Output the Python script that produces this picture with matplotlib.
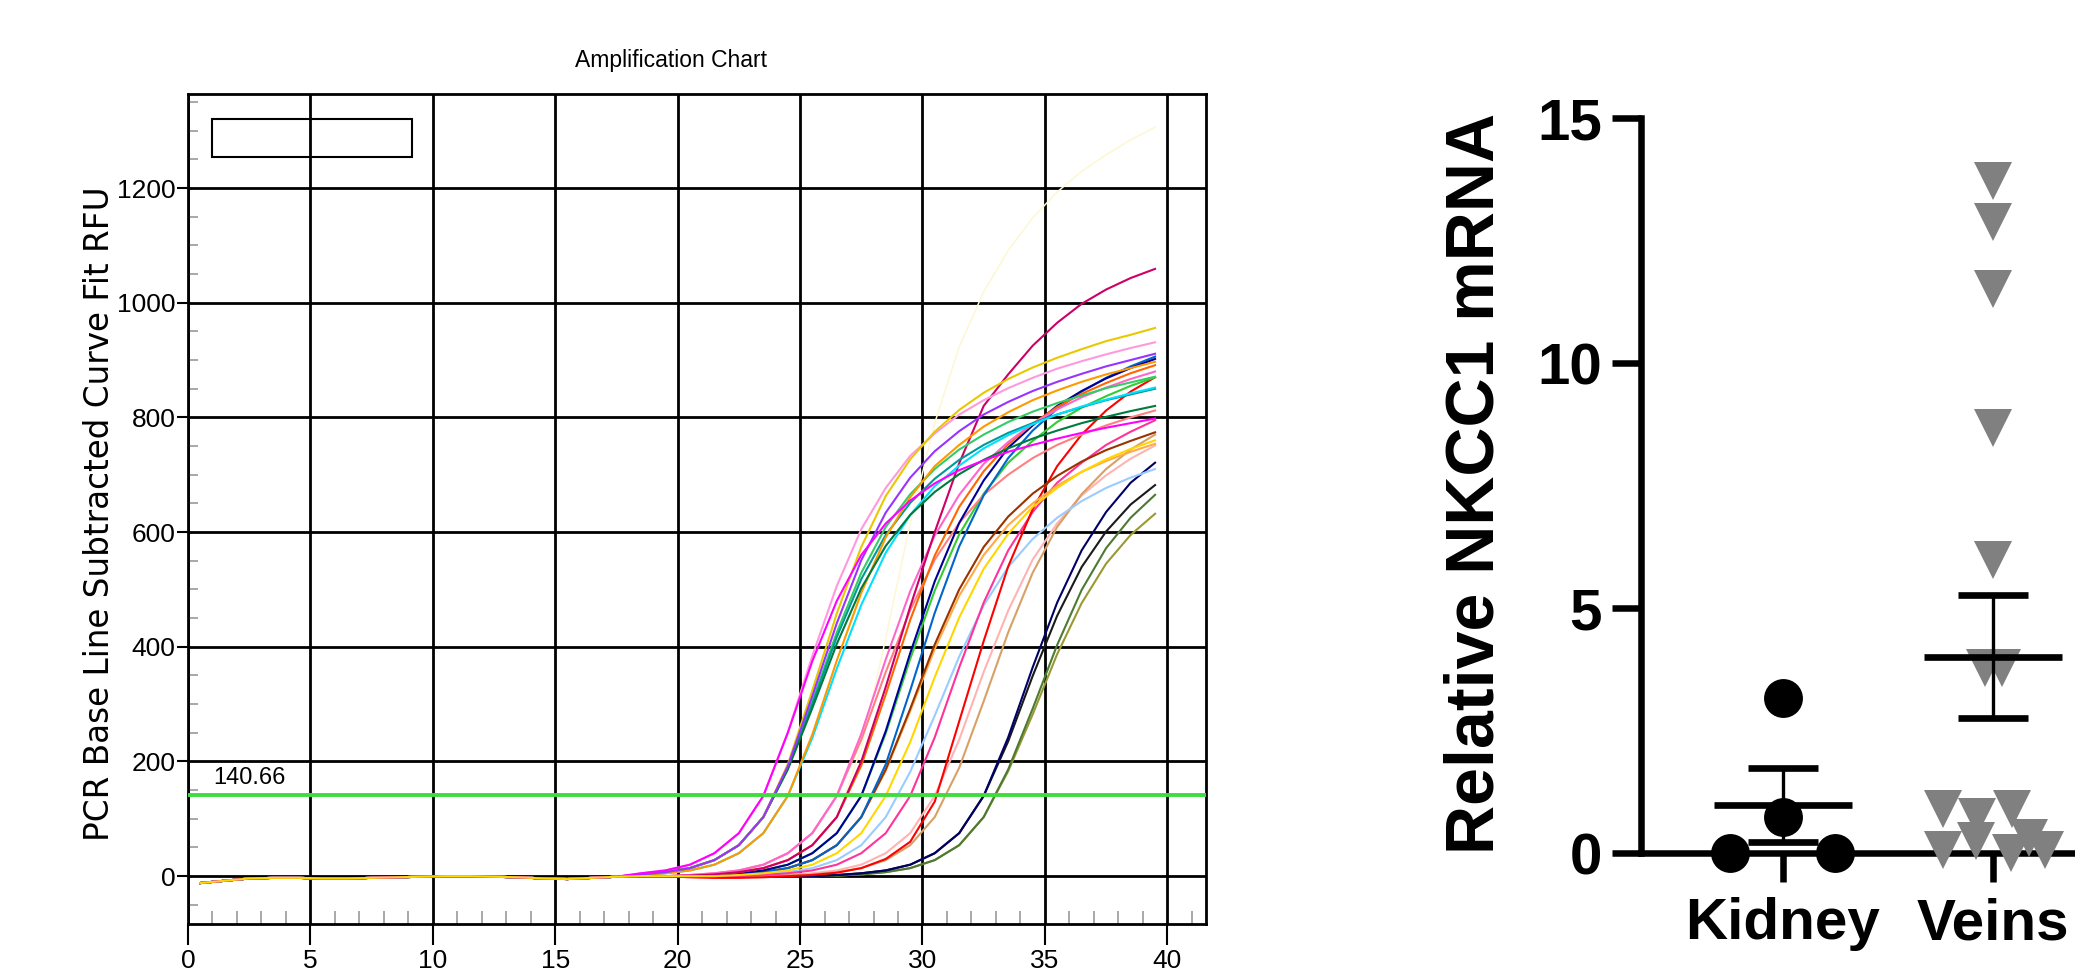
import numpy as np
import matplotlib
matplotlib.use('Agg')
import matplotlib.pyplot as plt
from matplotlib.patches import Rectangle
from matplotlib.ticker import MultipleLocator

plt.rcParams['font.family'] = ['Liberation Sans', 'DejaVu Sans']

# ---- amplification data (RFU), cycles 1..40 drawn at cycle - 0.5 ----
cycle_x = np.arange(0.5, 40)
threshold = 140.66

# shared flat part for cycles 1-18
baseline = [-12, -8, -4, -3, -3, -4, -4, -3, -2, -1, 0, 0, -1, -2, -4, -5, -3, -1]

# cycles 19-40
magenta = [5, 10, 20, 40, 75, 140, 250, 375, 480, 560, 615, 655, 685, 708, 725, 740, 752, 763, 773, 782, 790, 798]
violet = [3, 7, 14, 28, 54, 103, 192, 314, 441, 551, 634, 695, 741, 776, 805, 827, 846, 862, 876, 889, 900, 911]
gold = [3, 7, 14, 28, 54, 103, 195, 324, 458, 574, 663, 727, 775, 813, 843, 867, 887, 904, 919, 933, 944, 956]
dark_green = [3, 7, 14, 28, 54, 103, 186, 293, 405, 502, 576, 630, 670, 701, 726, 746, 763, 777, 790, 801, 811, 820]
light_pink = [5, 10, 20, 40, 75, 140, 251, 384, 506, 605, 677, 733, 772, 805, 830, 851, 869, 885, 898, 910, 921, 931]
orange = [2, 5, 10, 20, 40, 75, 140, 247, 376, 494, 591, 661, 715, 752, 784, 809, 830, 847, 862, 875, 886, 897]
cyan = [2, 5, 10, 20, 40, 75, 140, 241, 362, 473, 564, 630, 680, 716, 746, 769, 788, 805, 819, 831, 842, 852]
teal = [3, 7, 14, 28, 54, 103, 188, 300, 417, 518, 595, 651, 693, 726, 752, 773, 790, 805, 818, 830, 840, 850]
sea_green = [3, 7, 14, 28, 54, 103, 189, 305, 425, 529, 609, 666, 710, 744, 770, 792, 810, 825, 838, 851, 861, 871]

crimson = [0, 0, 1, 3, 7, 14, 28, 54, 103, 200, 330, 470, 600, 720, 820, 875, 925, 965, 998, 1023, 1043, 1059]
pink = [0, 0, 2, 5, 10, 20, 40, 75, 140, 248, 378, 497, 594, 665, 719, 757, 789, 814, 835, 852, 867, 880]
orange_red = [0, 0, 1, 3, 7, 14, 28, 54, 103, 193, 317, 447, 559, 644, 706, 753, 789, 818, 841, 860, 877, 891]
dark_blue = [0, 0, 0, 2, 5, 10, 20, 40, 75, 140, 253, 389, 514, 616, 690, 747, 786, 820, 846, 868, 886, 902]
blue = [0, 0, 0, 1, 3, 7, 14, 28, 54, 103, 195, 324, 459, 575, 664, 729, 777, 815, 845, 869, 889, 906]
brown = [0, 0, 0, 1, 3, 7, 14, 28, 54, 103, 186, 292, 404, 500, 574, 627, 667, 698, 723, 743, 759, 774]
yellow = [0, 0, 0, 0, 2, 5, 10, 20, 40, 75, 140, 234, 347, 451, 536, 597, 644, 677, 705, 727, 745, 760]
light_orange = [0, 0, 0, 1, 3, 7, 14, 28, 54, 103, 184, 288, 396, 489, 560, 612, 650, 681, 705, 724, 740, 754]
salmon = [0, 0, 2, 5, 10, 20, 40, 75, 140, 238, 356, 464, 552, 616, 665, 700, 729, 752, 770, 786, 800, 812]
green = [0, 0, 0, 2, 5, 10, 20, 40, 75, 140, 249, 379, 498, 596, 667, 721, 759, 792, 817, 837, 855, 870]

red = [0, 0, -2, -3, -3, -2, 0, 2, 6, 14, 30, 60, 130, 270, 410, 540, 640, 715, 770, 812, 845, 870]
rose = [0, 0, 0, 0, 0, 2, 5, 10, 20, 40, 75, 140, 242, 364, 477, 568, 635, 686, 721, 752, 775, 795]
light_blue = [0, 0, 0, 0, 1, 3, 7, 14, 28, 54, 103, 182, 280, 383, 472, 539, 588, 625, 654, 677, 695, 710]
tan = [0, 0, 0, 0, 0, 0, 1, 3, 7, 14, 28, 54, 103, 189, 305, 425, 529, 609, 666, 710, 744, 770]
pale_pink = [0, 0, 0, 0, 0, 0, 2, 5, 10, 20, 40, 75, 140, 238, 356, 463, 552, 615, 664, 699, 728, 751]

navy = [0, 0, 0, 0, 0, 0, 0, 0, 2, 5, 10, 20, 40, 75, 140, 242, 364, 477, 568, 635, 686, 721]
black = [0, 0, 0, 0, 0, 0, 0, 0, 2, 5, 10, 20, 40, 75, 140, 235, 349, 454, 539, 601, 648, 682]
olive_green = [0, 0, 0, 0, 0, 0, 0, 0, 1, 3, 7, 14, 28, 54, 103, 186, 292, 403, 499, 572, 625, 665]
olive = [0, 0, 0, 0, 0, 0, 0, 0, 1, 3, 7, 14, 28, 54, 103, 183, 282, 387, 476, 545, 595, 632]

pale_yellow = [0, 0, 1, 3, 7, 14, 28, 54, 103, 223, 415, 616, 790, 923, 1019, 1091, 1148, 1193, 1229, 1258, 1284, 1306]

# drawing order: late wells first, yellow last so it sits on the baseline
wells = [
    (olive, '#999933'), (olive_green, '#4d7a33'), (black, '#1a1a1a'), (navy, '#000066'),
    (pale_pink, '#ffb3b3'), (tan, '#d9a066'), (light_blue, '#99ccff'), (rose, '#ff3399'), (red, '#ff0000'),
    (green, '#33cc33'), (salmon, '#ff8080'), (light_orange, '#ffaa44'), (brown, '#993300'),
    (blue, '#0066cc'), (dark_blue, '#000099'), (orange_red, '#ff6600'), (pink, '#ff66cc'), (crimson, '#cc0066'),
    (sea_green, '#33cc66'), (teal, '#009999'), (cyan, '#00e0ff'), (orange, '#ff9900'), (light_pink, '#ff99dd'),
    (dark_green, '#007a3d'), (gold, '#e8c800'), (violet, '#9933ff'), (magenta, '#ff00ff'),
    (yellow, '#ffd700'),
]

# ---- NKCC1 expression ----
groups = ['Kidney', 'Veins']
kidney_vals = [3.16, 0.74, 0.0, 0.0]
kidney_offsets = [0.0, 0.0, -0.25, 0.25]
veins_vals = [13.72, 12.88, 11.52, 8.67, 5.99, 3.78, 3.78, 0.89, 0.74, 0.89, 0.30, 0.06, 0.24, 0.0, 0.06]
veins_offsets = [0, 0, 0, 0, 0, -0.035, 0.045, -0.235, -0.075, 0.09, 0.17, -0.235, -0.08, 0.085, 0.25]
group_means = [0.98, 4.01]
group_sems = [0.75, 1.25]

fig = plt.figure(figsize=(20.75, 9.74), dpi=100)

# ===== left: amplification chart =====
ax = fig.add_axes([0.0906, 0.0510, 0.4906, 0.8525])
# faint extrapolated well, barely visible in the original
ax.plot(cycle_x, baseline + pale_yellow, color='#fdf7d2', lw=1.1, zorder=2)
for vals, col in wells:
    ax.plot(cycle_x, baseline + vals, color=col, lw=1.5, zorder=2)

ax.axhline(threshold, color='#3fdc3f', lw=2.8, zorder=3)
ax.text(1.05, threshold + 12, f'{threshold:.2f}', fontsize=17, ha='left', va='bottom')

ax.set_xlim(0, 41.58)
ax.set_ylim(-84, 1364)
ax.xaxis.set_major_locator(MultipleLocator(5))
ax.xaxis.set_minor_locator(MultipleLocator(1))
ax.set_yticks(np.arange(0, 1201, 200))
ax.yaxis.set_minor_locator(MultipleLocator(50))
ax.set_axisbelow(True)
ax.grid(which='major', color='black', lw=2.0)
for sp in ax.spines.values():
    sp.set_linewidth(2.0)
    sp.set_color('black')

ax.tick_params(which='major', direction='out', color='black', width=1.5, labelsize=19)
ax.tick_params(axis='x', which='major', length=15, pad=3)
ax.tick_params(axis='y', which='major', length=8, pad=1)
ax.tick_params(which='minor', direction='in', color='#9a9a9a', width=1.2)
ax.tick_params(axis='x', which='minor', length=9.5)
ax.tick_params(axis='y', which='minor', length=7)

# empty legend box
ax.add_patch(Rectangle((0.0236, 0.924), 0.1965, 0.0458, transform=ax.transAxes,
                       fill=False, edgecolor='black', lw=1.5))

fig.text(671 / 2075, 1 - 60 / 974, 'Amplification Chart', fontsize=16.5, ha='center', va='center')
fig.text(100 / 2075, 1 - 514 / 974, 'PCR Base Line Subtracted Curve Fit RFU',
         rotation=90, fontsize=23.5, ha='center', va='center', family=['DejaVu Sans'])

# ===== right: relative NKCC1 mRNA =====
ax2 = fig.add_axes([0.7908, 0.1242, 0.2708, 0.7546])
ax2.plot(np.add(0, kidney_offsets), kidney_vals, 'o', color='black', ms=28, mew=0,
         clip_on=False, zorder=4)
ax2.plot(np.add(1, veins_offsets), veins_vals, 'v', color='#808080', ms=27, mew=0,
         clip_on=False, zorder=4)
for i in range(len(groups)):
    ax2.errorbar(i, group_means[i], yerr=group_sems[i], fmt='_', color='black',
                 markersize=100, mew=4.8, capsize=25, elinewidth=2.4, capthick=2.4,
                 clip_on=False, zorder=5)

ax2.set_xlim(-0.676, 2.0)
ax2.set_ylim(0, 15)
ax2.set_yticks([0, 5, 10, 15])
ax2.set_xticks(range(len(groups)))
ax2.set_xticklabels(groups)
ax2.spines['top'].set_visible(False)
ax2.spines['right'].set_visible(False)
for side in ['left', 'bottom']:
    ax2.spines[side].set_linewidth(4.7)
ax2.tick_params(which='major', direction='out', width=4.7, length=21, color='black')
ax2.tick_params(axis='x', pad=11)
ax2.tick_params(axis='y', pad=7)
for lab in ax2.get_xticklabels() + ax2.get_yticklabels():
    lab.set_fontweight('bold')
    lab.set_fontsize(42)

fig.text(1476 / 2075, 1 - 483 / 974, 'Relative NKCC1 mRNA', rotation=90, fontsize=49,
         fontweight='bold', ha='center', va='center')

fig.savefig('out.png', dpi=100)
